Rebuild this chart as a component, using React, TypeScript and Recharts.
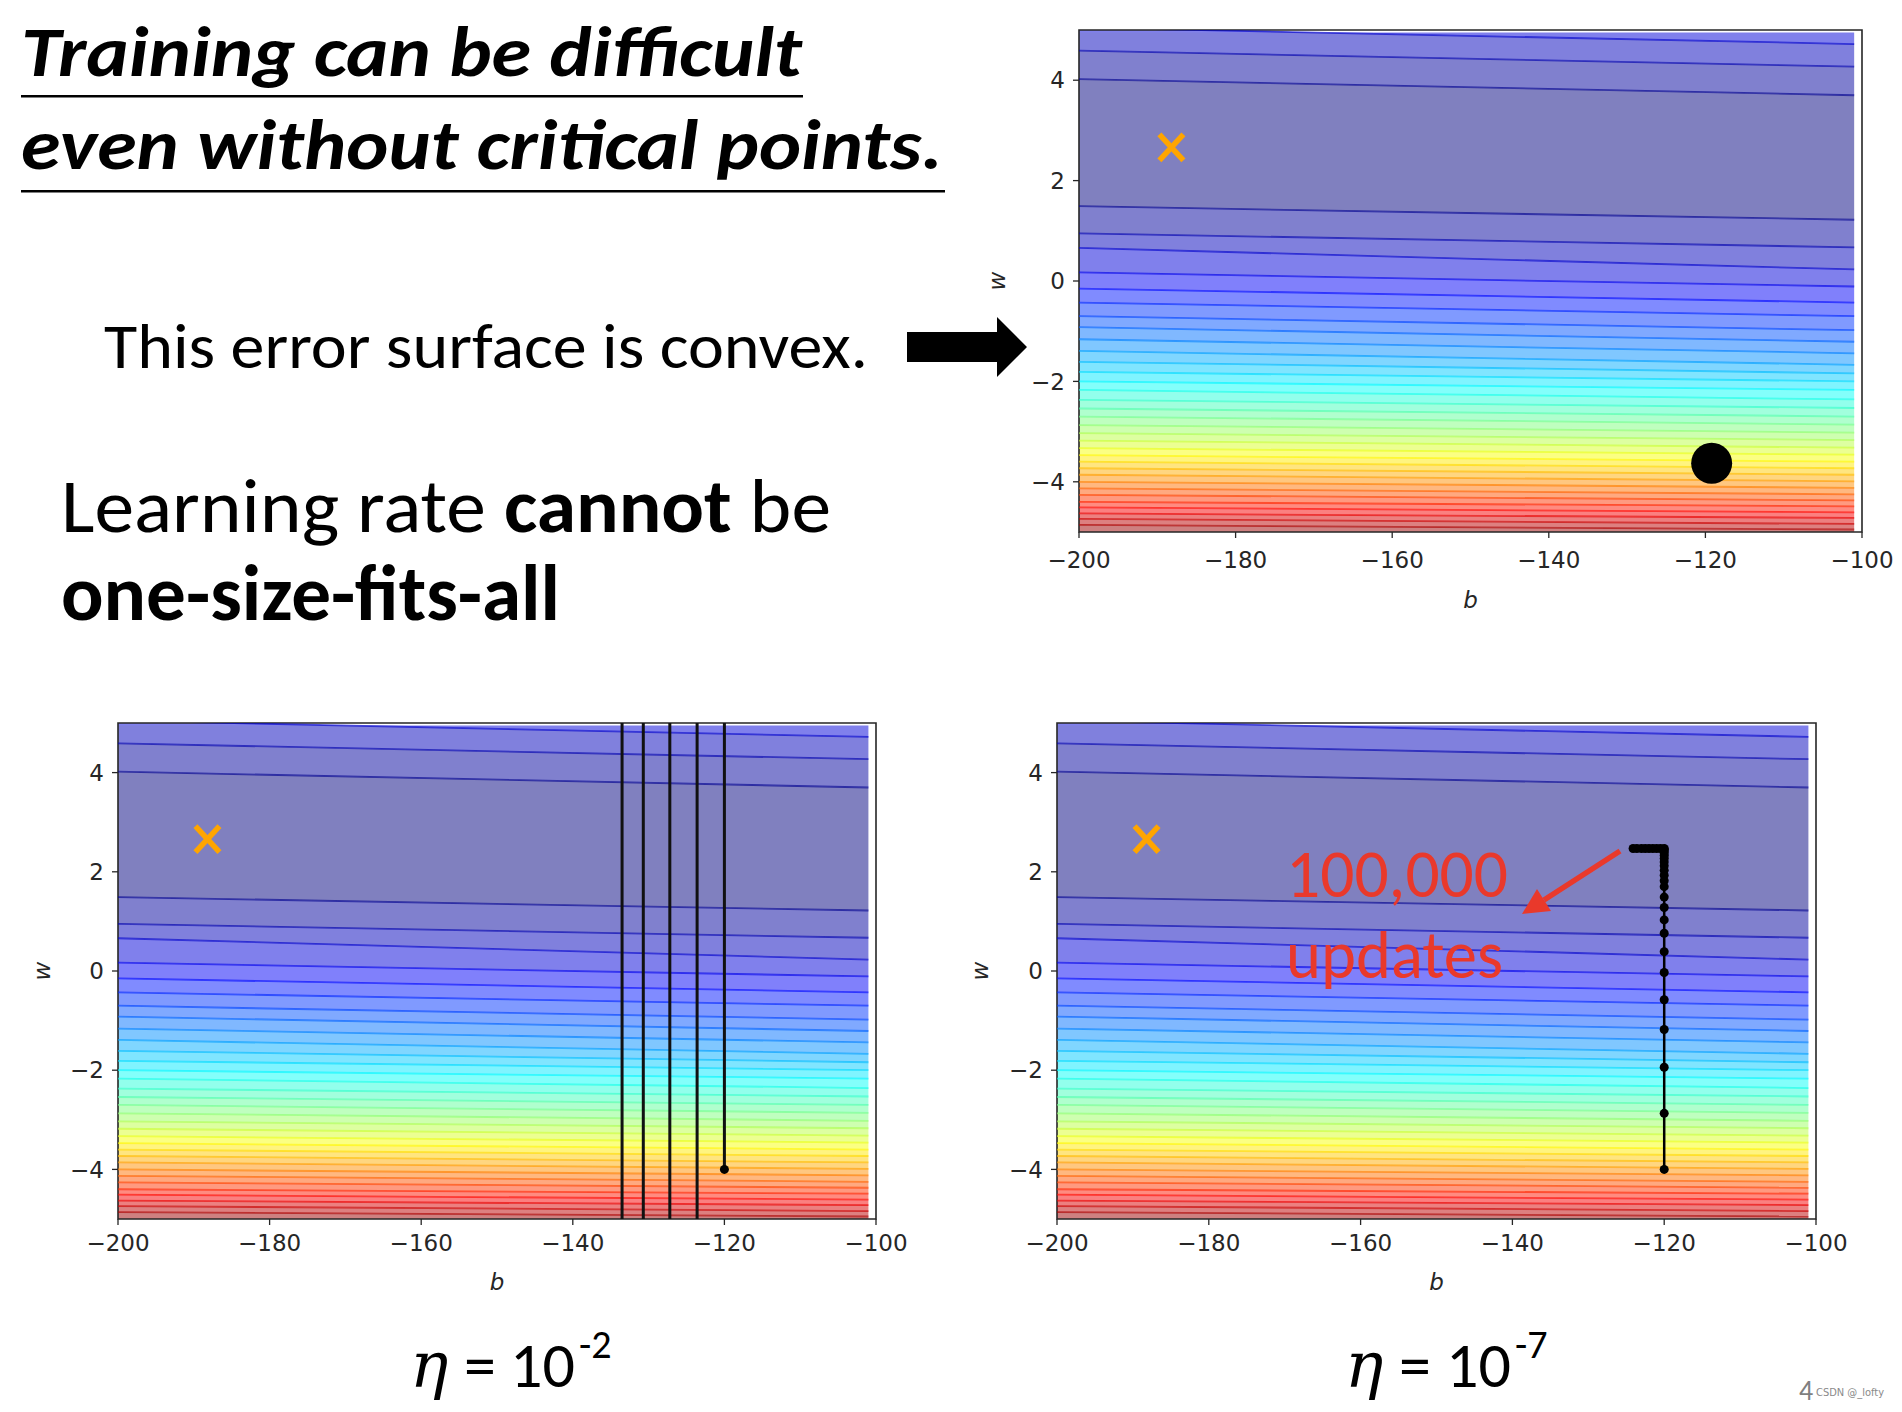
import React from "react";
import {
  Area,
  ComposedChart,
  Line,
  ReferenceArea,
  Scatter,
  XAxis,
  YAxis,
} from "recharts";

// contour boundaries of the loss surface, read at the left (b=-200) and right (b=-101) edge of the grid
const gridB = [-200, -101];
const gridTopW = 4.95;
const gridBottomW = -5;
const upperLeftW = [4.02, 4.59, 5.05];
const upperRightW = [3.7, 4.27, 4.72];
const lowerLeftW = [
  1.49, 0.95, 0.66, 0.17, -0.15, -0.43, -0.7, -0.92, -1.16, -1.39, -1.61, -1.81,
  -2.0, -2.17, -2.37, -2.54, -2.7, -2.87, -3.03, -3.18, -3.33, -3.47, -3.6, -3.73,
  -3.86, -4.0, -4.13, -4.26, -4.4, -4.51, -4.63, -4.74, -4.86,
]
const lowerRightW = [
  1.22, 0.67, 0.23, -0.11, -0.43, -0.7, -0.98, -1.21, -1.44, -1.67, -1.84, -2.0,
  -2.17, -2.36, -2.53, -2.7, -2.86, -3.02, -3.17, -3.32, -3.46, -3.6, -3.73, -3.86,
  -3.99, -4.12, -4.25, -4.37, -4.49, -4.61, -4.72, -4.84, -4.95,
]

const bTicks = [-200, -180, -160, -140, -120, -100]
const wTicks = [-4, -2, 0, 2, 4]

// orange cross
const targetB = [-188.2]
const targetW = [2.66]

// big black point on the convex surface
const startB = [-119.2]
const startW = [-3.63]

// eta = 10^-2 path (bounces far outside the view)
const bigEtaB = [-120, -120, -123.6, -123.6, -127.2, -127.2, -130.7, -130.7, -133.5, -133.5]
const bigEtaW = [-4, 5.6, 5.6, -5.6, -5.6, 5.6, 5.6, -5.6, -5.6, 5.6]

// eta = 10^-7 path
const smallEtaB = [
  -120, -120, -120, -120, -120, -120, -120, -120, -120, -120, -120, -120, -120, -120,
  -120, -120, -120, -120, -120, -120, -120, -120, -120, -120.5, -121, -121.5, -122,
  -122.5, -123, -123.6, -124.1,
]
const smallEtaW = [
  -4, -2.87, -1.94, -1.18, -0.58, -0.03, 0.39, 0.76, 1.03, 1.28, 1.49, 1.7, 1.82, 1.93,
  2.03, 2.12, 2.2, 2.27, 2.33, 2.38, 2.42, 2.45, 2.47, 2.47, 2.47, 2.47, 2.47, 2.47,
  2.47, 2.47, 2.47,
]

type Row = { b: number; up?: number[]; lo?: number[] }
const gridRows: Row[] = gridB.map((b, i) => ({
  b,
  up: i === 0 ? upperLeftW : upperRightW,
  lo: i === 0 ? lowerLeftW : lowerRightW,
}))

const zip = (bs: number[], ws: number[]) => bs.map((b, i) => ({ b, w: ws[i] }))

const nLevels = lowerLeftW.length + 1

function jet(t: number, alpha: number) {
  const c = (v: number) => Math.max(0, Math.min(1, v))
  const rgb = [
    c(1.5 - Math.abs(4 * t - 3)),
    c(1.5 - Math.abs(4 * t - 2)),
    c(1.5 - Math.abs(4 * t - 1)),
  ].map((v) => Math.round(255 * (1 - alpha + alpha * v)))
  return `rgb(${rgb[0]},${rgb[1]},${rgb[2]})`
}

const bands = [
  {
    id: "min",
    level: 0,
    value: (r: Row) => (r && r.up && r.lo ? [r.lo[0], r.up[0]] : undefined),
  },
  ...upperLeftW.map((_, k) => ({
    id: `u${k}`,
    level: k + 1,
    value: (r: Row) => (r && r.up ? [r.up[k], r.up[k + 1] ?? gridTopW] : undefined),
  })),
  ...lowerLeftW.map((_, k) => ({
    id: `l${k}`,
    level: k + 1,
    value: (r: Row) => (r && r.lo ? [r.lo[k + 1] ?? gridBottomW, r.lo[k]] : undefined),
  })),
]

const contourLines = [
  ...upperLeftW.map((_, k) => ({
    id: `cu${k}`,
    level: k,
    value: (r: Row) => (r && r.up ? r.up[k] : undefined),
  })),
  ...lowerLeftW.map((_, k) => ({
    id: `cl${k}`,
    level: k,
    value: (r: Row) => (r && r.lo ? r.lo[k] : undefined),
  })),
]

const axisFont = "'DejaVu Sans', sans-serif"
const slideFont = "Carlito, Lato, 'Open Sans', sans-serif"
const fmt = (v: number) => (v < 0 ? `\u2212${-v}` : `${v}`)

function BTitle(props: any) {
  const vb = props.viewBox ?? { x: 0, y: 0, width: 0 }
  return (
    <text
      x={vb.x + vb.width / 2}
      y={vb.y + props.gap}
      textAnchor="middle"
      fontFamily={axisFont}
      fontStyle="italic"
      fontSize={23}
      fill="#262626"
    >
      b
    </text>
  )
}

function WTitle(props: any) {
  const vb = props.viewBox ?? { x: 0, y: 0, width: 0, height: 0 }
  const cx = vb.x + vb.width - props.gap
  const cy = vb.y + vb.height / 2
  return (
    <text
      x={cx}
      y={cy}
      transform={`rotate(-90 ${cx} ${cy})`}
      textAnchor="middle"
      dominantBaseline="central"
      fontFamily={axisFont}
      fontStyle="italic"
      fontSize={23}
      fill="#262626"
    >
      w
    </text>
  )
}

const crossShape = (p: any) => (
  <g>
    <line x1={p.cx - 12} y1={p.cy - 13} x2={p.cx + 12} y2={p.cy + 13} stroke="#ffa500" strokeWidth={5.5} />
    <line x1={p.cx - 12} y1={p.cy + 13} x2={p.cx + 12} y2={p.cy - 13} stroke="#ffa500" strokeWidth={5.5} />
  </g>
)

function ContourPanel({
  left,
  top,
  width,
  height,
  yGap,
  xGap,
  tickGap,
  children,
}: {
  left: number
  top: number
  width: number
  height: number
  yGap: number
  xGap: number
  tickGap: number
  children?: React.ReactNode
}) {
  const tick = { fill: "#262626", fontSize: 23, fontFamily: axisFont }
  return (
    <div style={{ position: "absolute", left: left - 120, top: top - 10 }}>
      <ComposedChart
        width={width + 160}
        height={height + 100}
        margin={{ top: 10, right: 40, bottom: 10, left: 0 }}
      >
        <XAxis
          type="number"
          dataKey="b"
          domain={[-200, -100]}
          ticks={bTicks}
          interval={0}
          allowDataOverflow
          axisLine={false}
          tickLine={{ stroke: "#262626", strokeWidth: 1.3 }}
          tickSize={6}
          tickMargin={tickGap}
          tick={tick}
          tickFormatter={fmt}
          height={80}
          label={<BTitle gap={xGap} />}
        />
        <YAxis
          type="number"
          domain={[-5, 5]}
          ticks={wTicks}
          interval={0}
          allowDataOverflow
          axisLine={false}
          tickLine={{ stroke: "#262626", strokeWidth: 1.3 }}
          tickSize={6}
          tickMargin={8}
          tick={tick}
          tickFormatter={fmt}
          width={120}
          label={<WTitle gap={yGap} />}
        />
        {bands.map((band) => (
          <Area
            key={band.id}
            data={gridRows}
            type="linear"
            dataKey={band.value as any}
            stroke="none"
            fill={jet(band.level / nLevels, 0.5)}
            fillOpacity={1}
            dot={false}
            activeDot={false}
            isAnimationActive={false}
          />
        ))}
        {contourLines.map((cl) => (
          <Line
            key={cl.id}
            data={gridRows}
            type="linear"
            dataKey={cl.value as any}
            stroke={jet((cl.level + 0.5) / nLevels, 1)}
            strokeOpacity={0.65}
            strokeWidth={1.8}
            dot={false}
            activeDot={false}
            isAnimationActive={false}
          />
        ))}
        <ReferenceArea x1={-200} x2={-100} y1={-5} y2={5} fill="none" stroke="#262626" strokeWidth={1.6} />
        <Scatter data={zip(targetB, targetW)} dataKey="w" shape={crossShape} isAnimationActive={false} />
        {children}
      </ComposedChart>
    </div>
  )
}

export default function App() {
  return (
    <div
      style={{
        position: "absolute",
        left: 0,
        top: 0,
        width: 1902,
        height: 1412,
        background: "#fff",
        overflow: "hidden",
      }}
    >
      <ContourPanel left={1079} top={30} width={783} height={502} yGap={82} xGap={76} tickGap={14}>
        <Scatter
          data={zip(startB, startW)}
          dataKey="w"
          fill="#000"
          shape={(p: any) => <circle cx={p.cx} cy={p.cy} r={20.5} fill="#000" />}
          isAnimationActive={false}
        />
      </ContourPanel>

      <ContourPanel left={118} top={723} width={758} height={496} yGap={76} xGap={71} tickGap={10}>
        <Line
          data={zip(bigEtaB, bigEtaW)}
          dataKey="w"
          type="linear"
          stroke="#111"
          strokeWidth={3}
          dot={false}
          activeDot={false}
          isAnimationActive={false}
        />
        <Scatter
          data={zip(bigEtaB.slice(0, 1), bigEtaW.slice(0, 1))}
          dataKey="w"
          shape={(p: any) => <circle cx={p.cx} cy={p.cy} r={4.5} fill="#000" />}
          isAnimationActive={false}
        />
      </ContourPanel>

      <ContourPanel left={1057} top={723} width={759} height={496} yGap={77} xGap={71} tickGap={10}>
        <Line
          data={zip(smallEtaB, smallEtaW)}
          dataKey="w"
          type="linear"
          stroke="#000"
          strokeWidth={2.5}
          dot={{ r: 4.5, fill: "#000", stroke: "none" }}
          activeDot={false}
          isAnimationActive={false}
        />
      </ContourPanel>

      <svg
        width={1902}
        height={1412}
        style={{ position: "absolute", left: 0, top: 0, pointerEvents: "none" }}
      >
        <text x={21} y={76} fontFamily={slideFont} fontWeight={700} fontStyle="italic" fontSize={70} textLength={781} lengthAdjust="spacingAndGlyphs">
          Training can be difficult
        </text>
        <rect x={21} y={95} width={782} height={2.5} fill="#000" />
        <text x={21} y={169} fontFamily={slideFont} fontWeight={700} fontStyle="italic" fontSize={70} textLength={922} lengthAdjust="spacingAndGlyphs">
          even without critical points.
        </text>
        <rect x={21} y={190} width={924} height={2.5} fill="#000" />

        <text x={104} y={368} fontFamily={slideFont} fontSize={64} textLength={764} lengthAdjust="spacingAndGlyphs">
          This error surface is convex.
        </text>
        <polygon points="907,332 997,332 997,317 1027,347 997,377 997,362 907,362" fill="#000" />

        <text x={61} y={532} fontFamily={slideFont} fontSize={76} textLength={770} lengthAdjust="spacingAndGlyphs">
          Learning rate <tspan fontWeight={700}>cannot</tspan> be
        </text>
        <text x={61} y={620} fontFamily={slideFont} fontWeight={700} fontSize={78} textLength={499} lengthAdjust="spacingAndGlyphs">
          one-size-fits-all
        </text>

        <text x={1286} y={897} fontFamily={slideFont} fontSize={67} fill="#e9392b" textLength={222} lengthAdjust="spacingAndGlyphs">
          100,000
        </text>
        <text x={1286} y={978} fontFamily={slideFont} fontSize={67} fill="#e9392b" textLength={217} lengthAdjust="spacingAndGlyphs">
          updates
        </text>
        <line x1={1620} y1={851} x2={1544} y2={900} stroke="#e9392b" strokeWidth={5.5} />
        <polygon points="1522,914 1551,911 1537,889" fill="#e9392b" />

        <text y={1387} fontFamily={slideFont} fontSize={64} fill="#000">
          <tspan x={410} fontFamily="'DejaVu Serif', serif" fontStyle="italic" fontSize={64}>η</tspan>
          <tspan x={464}>=</tspan>
          <tspan x={510}>10</tspan>
          <tspan x={579} y={1358} fontSize={40}>-2</tspan>
        </text>
        <text y={1387} fontFamily={slideFont} fontSize={64} fill="#000">
          <tspan x={1345} fontFamily="'DejaVu Serif', serif" fontStyle="italic" fontSize={64}>η</tspan>
          <tspan x={1399}>=</tspan>
          <tspan x={1446}>10</tspan>
          <tspan x={1515} y={1358} fontSize={40}>-7</tspan>
        </text>

        <text x={1799} y={1400} fontFamily={slideFont} fontSize={28} fill="#7f7f7f">4</text>
        <text x={1816} y={1396} fontFamily={axisFont} fontSize={11} fill="#8a8a8a" textLength={68} lengthAdjust="spacingAndGlyphs">
          CSDN @_lofty
        </text>
      </svg>
    </div>
  )
}
